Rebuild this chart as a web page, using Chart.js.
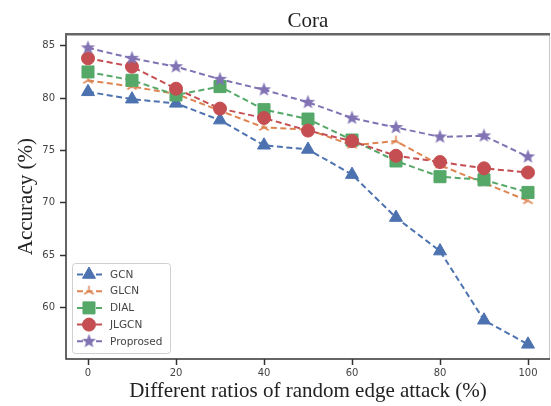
<!DOCTYPE html>
<html>
<head>
<meta charset="utf-8">
<title>Cora</title>
<script src="https://cdn.jsdelivr.net/npm/chart.js@4.4.1/dist/chart.umd.min.js"></script>
<style>
  html, body { margin: 0; padding: 0; background: #fff; }
  #chart { display: block; }
</style>
</head>
<body>
<canvas id="chart" width="551" height="406"></canvas>
<script>
// --- Data ---
const ratios = [0, 10, 20, 30, 40, 50, 60, 70, 80, 90, 100];
const gcn      = [80.6, 79.9, 79.5, 77.9, 75.5, 75.1, 72.7, 68.6, 65.4, 58.8, 56.5];
const glcn     = [81.7, 81.1, 80.4, 78.8, 77.2, 77.0, 75.5, 75.9, 73.6, 71.9, 70.2];
const dial     = [82.5, 81.7, 80.3, 81.1, 78.9, 78.0, 76.0, 74.0, 72.5, 72.2, 71.0];
const jlgcn    = [83.8, 83.0, 80.9, 79.0, 78.1, 76.9, 75.9, 74.5, 73.9, 73.3, 72.9];
const proposed = [84.8, 83.8, 83.0, 81.8, 80.8, 79.6, 78.1, 77.2, 76.3, 76.4, 74.4];
const seriesNames = ['GCN', 'GLCN', 'DIAL', 'JLGCN', 'Proprosed'];
const xTicks = [0, 20, 40, 60, 80, 100];
const yTicks = [60, 65, 70, 75, 80, 85];

const palette = ['#4C72B0', '#DD8452', '#55A868', '#C44E52', '#8172B3'];
const seriesValues = [gcn, glcn, dial, jlgcn, proposed];

// --- Custom marker images (filled star, thin tri_up) ---
function makeStar(color, r) {
    const s = Math.ceil(r * 2 + 2);
    const c = document.createElement('canvas');
    c.width = s; c.height = s;
    const ctx = c.getContext('2d');
    ctx.translate(s / 2, s / 2);
    ctx.beginPath();
    for (let i = 0; i < 10; i++) {
        const rad = i % 2 ? r * 0.42 : r;
        const a = -Math.PI / 2 + i * Math.PI / 5;
        ctx.lineTo(Math.cos(a) * rad, Math.sin(a) * rad);
    }
    ctx.closePath();
    ctx.fillStyle = color;
    ctx.fill();
    return c;
}

function makeTri(color, r) {
    const s = Math.ceil(r * 2 + 4);
    const c = document.createElement('canvas');
    c.width = s; c.height = s;
    const ctx = c.getContext('2d');
    ctx.translate(s / 2, s / 2);
    ctx.strokeStyle = color;
    ctx.lineWidth = 1.5;
    ctx.beginPath();
    [-90, 30, 150].forEach(deg => {
        const a = deg * Math.PI / 180;
        ctx.moveTo(0, 0);
        ctx.lineTo(Math.cos(a) * r, Math.sin(a) * r);
    });
    ctx.stroke();
    return c;
}

const markers = [
    { style: 'triangle', radius: 7.5 },
    { style: makeTri(palette[1], 5.5), radius: 5 },
    { style: 'rect', radius: 8.5 },
    { style: 'circle', radius: 6.5 },
    { style: makeStar(palette[4], 7.5), radius: 7 }
];

const datasets = seriesNames.map((name, i) => ({
    label: name,
    data: ratios.map((x, k) => ({ x: x, y: seriesValues[i][k] })),
    borderColor: palette[i],
    backgroundColor: palette[i],
    borderWidth: 2,
    borderDash: [6, 3.5],
    pointStyle: markers[i].style,
    pointRadius: markers[i].radius,
    pointBorderWidth: 1,
    pointBorderColor: palette[i],
    pointBackgroundColor: palette[i],
    order: seriesNames.length - i,   // GCN drawn first, Proposed on top
    tension: 0,
    fill: false
}));

// --- Frame around the plot area ---
const framePlugin = {
    id: 'frame',
    afterDraw(chart) {
        const { ctx, chartArea: a } = chart;
        ctx.save();
        ctx.strokeStyle = '#c8c8c8';
        ctx.lineWidth = 1;
        ctx.beginPath();
        ctx.moveTo(a.right - 0.5, a.top);
        ctx.lineTo(a.right - 0.5, a.bottom);
        ctx.stroke();
        ctx.strokeStyle = '#333';
        ctx.lineWidth = 1.5;
        ctx.beginPath();
        ctx.moveTo(a.left, a.top);
        ctx.lineTo(a.left, a.bottom);
        ctx.lineTo(a.right, a.bottom);
        ctx.stroke();
        ctx.strokeStyle = '#666';
        ctx.lineWidth = 2.5;
        ctx.beginPath();
        ctx.moveTo(a.left - 1, a.top);
        ctx.lineTo(a.right, a.top);
        ctx.stroke();
        ctx.restore();
    }
};

// --- Legend inside the lower-left corner ---
const insideLegend = {
    id: 'insideLegend',
    afterDraw(chart) {
        const { ctx, chartArea: a } = chart;
        const left = a.left + 6, top = a.bottom - 96, w = 98, h = 90;
        ctx.save();
        ctx.beginPath();
        ctx.roundRect(left + 0.5, top + 0.5, w, h, 3);
        ctx.fillStyle = 'rgba(255,255,255,0.85)';
        ctx.fill();
        ctx.strokeStyle = '#d0d0d0';
        ctx.lineWidth = 1;
        ctx.stroke();
        ctx.font = '10.5px "DejaVu Sans"';
        ctx.textBaseline = 'middle';
        seriesNames.forEach((name, i) => {
            const y = top + 11.5 + i * 16.7;
            ctx.strokeStyle = palette[i];
            ctx.lineWidth = 2;
            ctx.setLineDash([6, 3.5]);
            ctx.beginPath();
            ctx.moveTo(left + 5, y);
            ctx.lineTo(left + 31, y);
            ctx.stroke();
            ctx.setLineDash([]);
            ctx.fillStyle = palette[i];
            ctx.lineWidth = 1;
            Chart.helpers.drawPoint(ctx, {
                pointStyle: markers[i].style,
                radius: markers[i].radius,
                rotation: 0,
                borderWidth: 1
            }, left + 17, y);
            ctx.fillStyle = '#444';
            ctx.fillText(name, left + 38, y + 0.5);
        });
        ctx.restore();
    }
};

new Chart(document.getElementById('chart'), {
    type: 'line',
    data: { datasets: datasets },
    options: {
        responsive: false,
        animation: false,
        devicePixelRatio: 1,
        layout: { autoPadding: false, padding: { top: 0, right: 1, bottom: 0, left: 0 } },
        plugins: {
            legend: { display: false },
            tooltip: { enabled: false },
            title: {
                display: true,
                text: 'Cora',
                fullSize: false,
                color: '#222',
                font: { family: 'Liberation Serif', size: 21, weight: 'normal' },
                padding: { top: 9, bottom: 0 }
            }
        },
        scales: {
            x: {
                type: 'linear',
                min: -5,
                max: 105,
                afterBuildTicks: s => { s.ticks = xTicks.map(v => ({ value: v })); },
                afterFit: s => { s.height = 47; s.paddingLeft = 0; s.paddingRight = 0; },
                grid: { drawOnChartArea: false, drawTicks: true, tickLength: 6, tickColor: '#333', tickWidth: 1.5 },
                border: { display: false },
                ticks: { color: '#444', font: { family: 'DejaVu Sans', size: 10 }, padding: 2, maxRotation: 0 },
                title: {
                    display: true,
                    text: 'Different ratios of random edge attack (%)',
                    color: '#222',
                    font: { family: 'Liberation Serif', size: 21 },
                    padding: { top: 0, bottom: 2 }
                }
            },
            y: {
                min: 55.1,
                max: 86.1,
                afterBuildTicks: s => { s.ticks = yTicks.map(v => ({ value: v })); },
                afterFit: s => { s.width = 66; s.paddingTop = 0; s.paddingBottom = 0; },
                grid: { drawOnChartArea: false, drawTicks: true, tickLength: 6, tickColor: '#333', tickWidth: 1.5 },
                border: { display: false },
                ticks: { color: '#444', font: { family: 'DejaVu Sans', size: 10 }, padding: 5 },
                title: {
                    display: true,
                    text: 'Accuracy (%)',
                    color: '#222',
                    font: { family: 'Liberation Serif', size: 21 },
                    padding: { top: 14, bottom: 0 }
                }
            }
        }
    },
    plugins: [framePlugin, insideLegend]
});
</script>
</body>
</html>
